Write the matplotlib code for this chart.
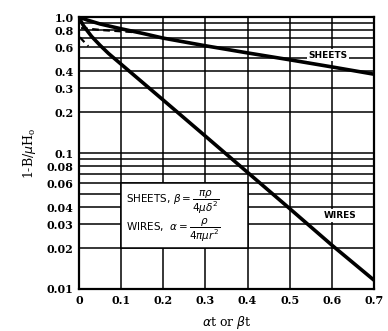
import numpy as np
import matplotlib
matplotlib.use("Agg")
import matplotlib.pyplot as plt
from matplotlib.patches import Rectangle

# curves
sheets_x = [0.0, 0.02, 0.05, 0.1, 0.15, 0.2, 0.3, 0.4, 0.5, 0.6, 0.7]
sheets_y = [1.0, 0.95, 0.89, 0.82, 0.76, 0.70, 0.615, 0.545, 0.485, 0.43, 0.38]

sheets_dash_x = [0.005, 0.06, 0.13]
sheets_dash_y = [0.83, 0.80, 0.775]

wires_x = [0.0, 0.005, 0.01, 0.02, 0.03, 0.05, 0.07, 0.1, 0.2, 0.3, 0.4, 0.5, 0.6, 0.7]
wires_y = [1.0, 0.93, 0.87, 0.79, 0.72, 0.62, 0.54, 0.45, 0.245, 0.133, 0.072, 0.039, 0.021, 0.0116]

wires_dash_x = [0.002, 0.022]
wires_dash_y = [0.71, 0.61]

x_ticks = [0, 0.1, 0.2, 0.3, 0.4, 0.5, 0.6, 0.7]
x_labels = ["0", "0.1", "0.2", "0.3", "0.4", "0.5", "0.6", "0.7"]
y_ticks = [1.0, 0.8, 0.6, 0.4, 0.3, 0.2, 0.1, 0.08, 0.06, 0.04, 0.03, 0.02, 0.01]
y_labels = ["1.0", "0.8", "0.6", "0.4", "0.3", "0.2", "0.1", "0.08", "0.06",
            "0.04", "0.03", "0.02", "0.01"]
h_grid = [0.02, 0.03, 0.04, 0.05, 0.06, 0.07, 0.08, 0.09, 0.1,
          0.2, 0.3, 0.4, 0.5, 0.6, 0.7, 0.8, 0.9]

fig = plt.figure(figsize=(3.88, 3.31), dpi=100)
ax = fig.add_axes([0.2036, 0.127, 0.7604, 0.8214])
ax.set_yscale("log")
ax.set_xlim(0, 0.7)
ax.set_ylim(0.01, 1.0)

# grid
for v in h_grid:
    ax.axhline(v, color="black", lw=1.1, zorder=1)
for v in x_ticks[1:-1]:
    ax.axvline(v, color="black", lw=1.1, zorder=1)

ax.plot(sheets_x, sheets_y, color="black", lw=2.6, zorder=3, solid_capstyle="butt")
ax.plot(sheets_dash_x, sheets_dash_y, color="black", lw=1.6, ls=(0, (3, 2)), zorder=3)
ax.plot(wires_x, wires_y, color="black", lw=2.6, zorder=3, solid_capstyle="butt")
ax.plot(wires_dash_x, wires_dash_y, color="black", lw=1.6, ls=(0, (3, 2)), zorder=3)

# formula box
ax.add_patch(Rectangle((0.1, 0.02), 0.3, 0.04, facecolor="white",
                       edgecolor="black", lw=1.1, zorder=4))
ax.text(0.112, 0.043, r"SHEETS, $\beta = \dfrac{\pi\rho}{4\mu\delta^2}$",
        fontsize=7.5, family="DejaVu Sans", va="center", ha="left", zorder=5)
ax.text(0.112, 0.027, r"WIRES,  $\alpha = \dfrac{\rho}{4\pi\mu r^2}$",
        fontsize=7.5, family="DejaVu Sans", va="center", ha="left", zorder=5)

ax.text(0.59, 0.525, "SHEETS", fontsize=6.5, fontweight="bold",
        family="DejaVu Sans", ha="center", va="center", zorder=5,
        bbox=dict(facecolor="white", edgecolor="none", pad=1.0))
ax.text(0.62, 0.0345, "WIRES", fontsize=6.5, fontweight="bold",
        family="DejaVu Sans", ha="center", va="center", zorder=2,
        bbox=dict(facecolor="white", edgecolor="none", pad=1.5))

ax.set_xticks(x_ticks)
ax.set_xticklabels(x_labels)
ax.set_yticks(y_ticks)
ax.set_yticklabels(y_labels)
ax.yaxis.set_minor_locator(matplotlib.ticker.NullLocator())
ax.tick_params(length=0, pad=4)
for lab in ax.get_xticklabels() + ax.get_yticklabels():
    lab.set_family("DejaVu Serif")
    lab.set_fontweight("bold")
    lab.set_fontsize(8)

for s in ax.spines.values():
    s.set_linewidth(1.6)

ax.set_ylabel(r"1-B/$\mu$H$_\mathregular{o}$", family="DejaVu Serif", fontsize=9, labelpad=6)
ax.set_xlabel(r"$\alpha$t or $\beta$t", family="DejaVu Serif", fontsize=9, labelpad=6)

fig.savefig("out.png", dpi=100)
